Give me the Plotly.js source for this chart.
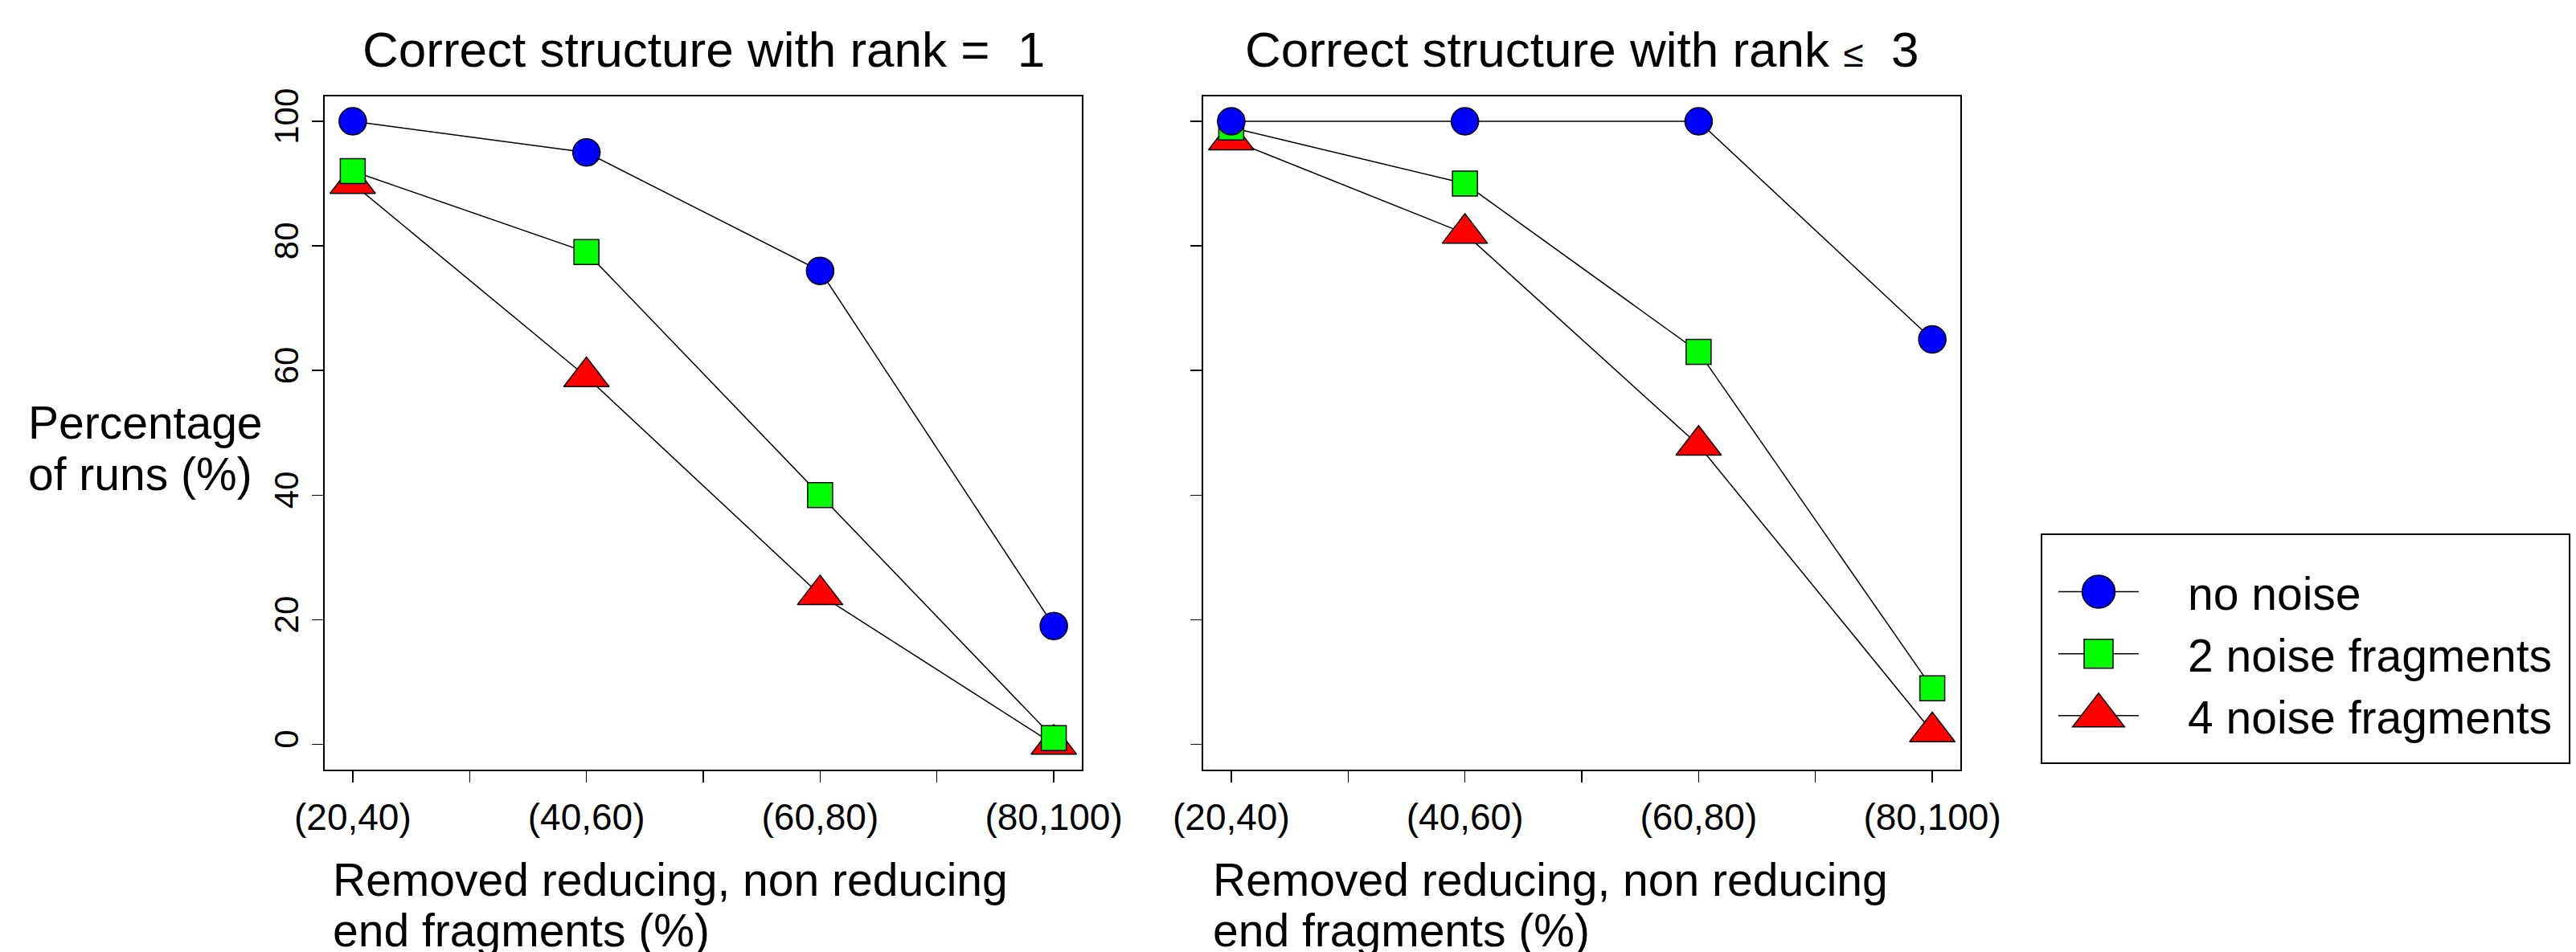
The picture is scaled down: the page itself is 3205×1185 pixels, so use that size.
<!DOCTYPE html>
<html><head><meta charset="utf-8">
<script src="https://cdn.plot.ly/plotly-3.0.1.min.js"></script>
<style>html,body{margin:0;padding:0;background:#fff;} #chart{width:3205px;height:1185px;}</style>
</head><body><div id="chart"></div>
<script>
// ---- data ----
const categories = ['(20,40)', '(40,60)', '(60,80)', '(80,100)'];
const seriesNames = ['no noise', '2 noise fragments', '4 noise fragments'];
const rank1NoNoise = [100, 95, 76, 19];
const rank1Noise2  = [92, 79, 40, 1];
const rank1Noise4  = [90, 59, 24, 0];
const rank3NoNoise = [100, 100, 100, 65];
const rank3Noise2  = [99, 90, 63, 9];
const rank3Noise4  = [97, 82, 48, 2];
const yTicks = [0, 20, 40, 60, 80, 100];
const panelTitles = ['Correct structure with rank = \u00a01', 'Correct structure with rank <span style="font-size:46px">\u2264</span> \u00a03'];
const yTitleLines = ['Percentage', 'of runs (%)'];
const xTitleLines = ['Removed reducing, non reducing', 'end fragments (%)'];

// ---- geometry / styles ----
const W = 3205, H = 1185;
const FONT = 'Liberation Sans, Arial, Helvetica, sans-serif';
const xPos = categories.map((c, i) => i + 1);
const tickVals = [], tickText = [];
xPos.forEach((v, i) => {
  tickVals.push(v); tickText.push(categories[i]);
  if (i < xPos.length - 1) { tickVals.push(v + 0.5); tickText.push(''); }
});
const styles = {
  'no noise':          {symbol: 'circle',      color: '#0000ff', size: 34, legend: 41},
  '2 noise fragments': {symbol: 'square',      color: '#00ff00', size: 31, legend: 36},
  '4 noise fragments': {symbol: 'triangle-up', color: '#ff0000', size: 49, legend: 56}
};
const panels = [
  {xa: 'x',  ya: 'y',  series: [rank1NoNoise, rank1Noise2, rank1Noise4], legend: true},
  {xa: 'x2', ya: 'y2', series: [rank3NoNoise, rank3Noise2, rank3Noise4], legend: false}
];

const traces = [];
panels.forEach(p => {
  // draw order: 4 noise first, then 2 noise, then no noise on top
  [2, 1, 0].forEach(k => {
    const name = seriesNames[k];
    const s = styles[name];
    traces.push({
      type: 'scatter', mode: 'lines+markers', name: name,
      x: xPos, y: p.series[k], xaxis: p.xa, yaxis: p.ya,
      showlegend: p.legend, legendrank: k + 1,
      line: {color: '#000', width: 1.5},
      marker: {symbol: s.symbol, color: s.color, size: s.size, line: {color: '#000', width: 1.5}},
      hoverinfo: 'x+y+name'
    });
  });
});

function xAxis(dom, anchor) {
  return {
    domain: dom, anchor: anchor, range: [0.88, 4.12], tickmode: 'array',
    tickvals: tickVals, ticktext: tickText, ticks: 'outside', ticklen: 14, tickwidth: 1.5,
    tickcolor: '#000', showline: true, mirror: true, linecolor: '#000', linewidth: 2,
    showgrid: false, zeroline: false, tickfont: {size: 46, family: FONT, color: '#000'},
    ticklabelstandoff: 4
  };
}
function yAxis(dom, anchor, labels) {
  return {
    domain: dom, anchor: anchor, range: [-4, 104], tickmode: 'array', tickvals: yTicks,
    ticks: 'outside', ticklen: 14, tickwidth: 1.5, tickcolor: '#000', tickangle: -90,
    showticklabels: labels, showline: true, mirror: true, linecolor: '#000', linewidth: 2,
    showgrid: false, zeroline: false, tickfont: {size: 42, family: FONT, color: '#000'}
  };
}
const yDom = [1 - 957.5 / H, 1 - 120 / H];
const ann = [];
const titleX = [(404 + 1346) / 2 / W, (1497 + 2439) / 2 / W];
panelTitles.forEach((t, i) => ann.push({
  xref: 'paper', yref: 'paper', x: titleX[i], y: 1 - 61 / H, xanchor: 'center', yanchor: 'middle',
  text: t, showarrow: false, font: {size: 62, family: FONT, color: '#000'}
}));
const yTitleCenters = [526, 590];
yTitleLines.forEach((t, i) => ann.push({
  xref: 'paper', yref: 'paper', x: 33 / W, y: 1 - yTitleCenters[i] / H, xanchor: 'left', yanchor: 'middle',
  text: t, showarrow: false, font: {size: 57, family: FONT, color: '#000'}
}));
const xTitleCenters = [1095, 1158];
[412, 1507].forEach(left => xTitleLines.forEach((t, i) => ann.push({
  xref: 'paper', yref: 'paper', x: left / W, y: 1 - xTitleCenters[i] / H, xanchor: 'left', yanchor: 'middle',
  text: t, showarrow: false, font: {size: 57, family: FONT, color: '#000'}
})));

const layout = {
  width: W, height: H, margin: {l: 0, r: 0, t: 0, b: 0},
  paper_bgcolor: '#fff', plot_bgcolor: '#fff',
  font: {family: FONT, color: '#000'},
  xaxis: xAxis([404 / W, 1346 / W], 'y'),
  yaxis: yAxis(yDom, 'x', true),
  xaxis2: xAxis([1497 / W, 2439 / W], 'y2'),
  yaxis2: yAxis(yDom, 'x2', false),
  showlegend: true,
  legend: {
    x: 2556 / W, y: 1 - 693 / H, xanchor: 'left', yanchor: 'top',
    font: {size: 57, family: FONT, color: '#000'}, itemwidth: 100,
    bgcolor: 'rgba(0,0,0,0)', borderwidth: 0
  },
  shapes: [{
    type: 'rect', xref: 'paper', yref: 'paper',
    x0: 2540 / W, x1: 3197 / W, y0: 1 - 950 / H, y1: 1 - 665 / H,
    line: {color: '#000', width: 2}, fillcolor: 'rgba(0,0,0,0)'
  }],
  annotations: ann
};

Plotly.newPlot('chart', traces, layout, {staticPlot: true, displayModeBar: false}).then(gd => {
  // legend markers are clamped to 16px by plotly; enlarge them to the reference size,
  // and leave the reference's gap between the line sample and the label
  gd.querySelectorAll('.legend [clip-path]').forEach(el => el.removeAttribute('clip-path'));
  gd.querySelectorAll('.legend g.traces').forEach(g => {
    const dd = g.__data__;
    const tr = dd && dd[0] && dd[0].trace;
    if (!tr) return;
    const s = styles[tr.name];
    if (!s) return;
    const k = s.legend / 16;
    g.querySelectorAll('path.scatterpts').forEach(p => {
      const t = p.getAttribute('transform') || '';
      p.setAttribute('transform', t + ' scale(' + k + ')');
      p.style.vectorEffect = 'non-scaling-stroke';
    });
    g.querySelectorAll('text.legendtext').forEach(tx => {
      tx.setAttribute('transform', 'translate(56,0)');
    });
  });
});
</script>
</body></html>
